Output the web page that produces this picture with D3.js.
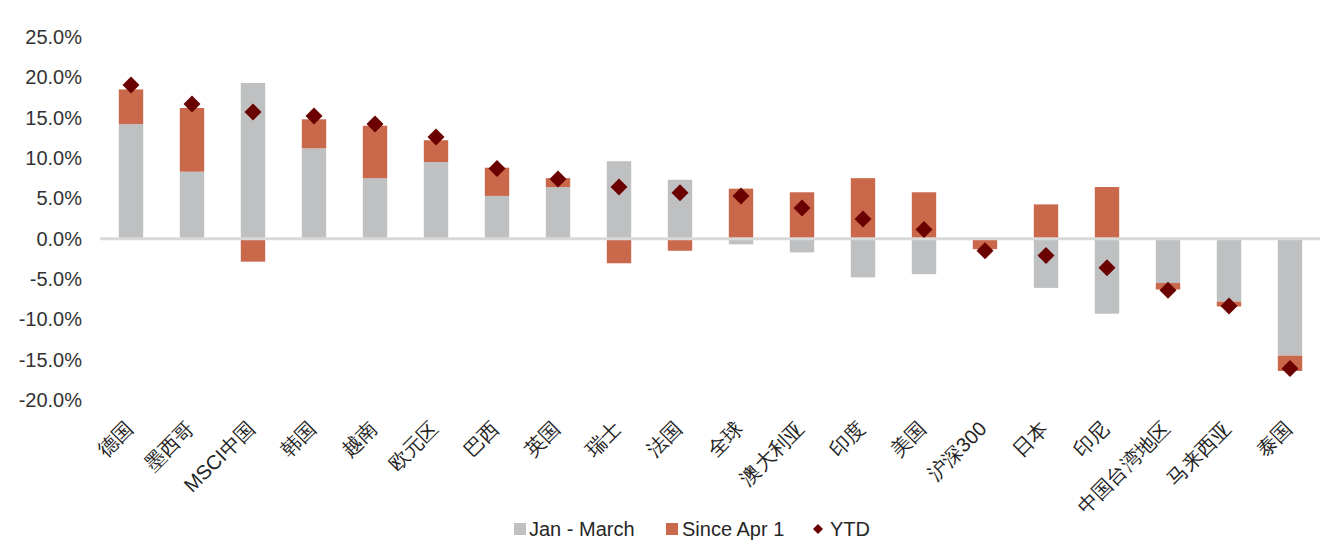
<!DOCTYPE html>
<html lang="zh">
<head>
    <meta charset="UTF-8">
    <title>YTD returns</title>
    <style>
        body { margin: 0; background: #ffffff; }
        svg { display: block; }
        .tick text { font-family: "Liberation Sans", Arial, sans-serif; }
    </style>
    <script src="https://d3js.org/d3.v7.min.js"></script>
</head>
<body>
    <svg width="1326" height="549"></svg>
    <script>
        // data (percent)
        const categories = ["德国", "墨西哥", "MSCI中国", "韩国", "越南", "欧元区", "巴西", "英国", "瑞士", "法国",
            "全球", "澳大利亚", "印度", "美国", "沪深300", "日本", "印尼", "中国台湾地区", "马来西亚", "泰国"];
        const janMarch = [14.2, 8.3, 19.3, 11.2, 7.5, 9.5, 5.3, 6.4, 9.6, 7.3,
            -0.7, -1.7, -4.8, -4.4, 0, -6.1, -9.3, -5.5, -7.8, -14.5];
        const sinceApr = [4.3, 7.9, -2.85, 3.6, 6.5, 2.7, 3.5, 1.1, -3.05, -1.5,
            6.2, 5.75, 7.5, 5.75, -1.3, 4.25, 6.4, -0.8, -0.6, -1.9];
        const ytd = [19.05, 16.7, 15.7, 15.2, 14.2, 12.6, 8.7, 7.4, 6.4, 5.7,
            5.3, 3.8, 2.45, 1.15, -1.5, -2.1, -3.6, -6.4, -8.35, -16.1];
        const yTicks = [-20, -15, -10, -5, 0, 5, 10, 15, 20, 25];

        const colors = { jan: "#bfc0c2", apr: "#c9684b", ytd: "#6b0000" };

        const svg = d3.select("svg");

        const x = d3.scaleBand()
            .domain(categories)
            .range([100.5, 1320.5])
            .paddingInner(0.6)
            .paddingOuter(0.3);

        const y = d3.scaleLinear()
            .domain([-20, 25])
            .range([400, 37]);

        const rows = categories.map((c, i) => ({ cat: c, jan: janMarch[i], apr: sinceApr[i] }));
        const stack = d3.stack()
            .keys(["jan", "apr"])
            .offset(d3.stackOffsetDiverging);
        const series = stack(rows);

        // bars
        svg.append("g")
            .selectAll("g")
            .data(series)
            .join("g")
            .attr("fill", d => colors[d.key])
            .selectAll("rect")
            .data(d => d)
            .join("rect")
            .attr("x", d => x(d.data.cat))
            .attr("width", x.bandwidth())
            .attr("y", d => y(Math.max(d[0], d[1])))
            .attr("height", d => Math.abs(y(d[0]) - y(d[1])));

        // zero line
        svg.append("line")
            .attr("x1", 100)
            .attr("x2", 1320)
            .attr("y1", y(0))
            .attr("y2", y(0))
            .attr("stroke", "#d9d9d9")
            .attr("stroke-width", 3);

        // YTD diamonds
        const diamond = "M0,-8.5L8.5,0L0,8.5L-8.5,0Z";
        svg.append("g")
            .selectAll("path")
            .data(ytd)
            .join("path")
            .attr("d", diamond)
            .attr("fill", colors.ytd)
            .attr("transform", (d, i) => `translate(${x(categories[i]) + x.bandwidth() / 2},${y(d)})`);

        // y axis
        const yAxis = svg.append("g")
            .attr("transform", "translate(82,0)")
            .call(d3.axisLeft(y).tickValues(yTicks).tickSize(0).tickPadding(0)
                .tickFormat(d => d.toFixed(1) + "%"));
        yAxis.select(".domain").remove();
        yAxis.selectAll("text")
            .attr("font-size", 20)
            .attr("fill", "#333");

        // x axis labels
        const xAxis = svg.append("g")
            .attr("transform", "translate(0,408)")
            .call(d3.axisBottom(x).tickSize(0).tickPadding(0));
        xAxis.select(".domain").remove();
        xAxis.selectAll("text")
            .attr("font-family", "'Noto Sans CJK SC', sans-serif")
            .attr("font-size", 20)
            .attr("fill", "#222")
            .attr("text-anchor", "end")
            .attr("dy", "0.35em")
            .attr("transform", "translate(-2,17) rotate(-45)");

        // legend
        const legend = svg.append("g")
            .attr("font-family", "'Liberation Sans', Arial, sans-serif")
            .attr("font-size", 20)
            .attr("fill", "#262626");
        legend.append("rect").attr("x", 514).attr("y", 523).attr("width", 12).attr("height", 12).attr("fill", colors.jan);
        legend.append("text").attr("x", 529).attr("y", 536).text("Jan - March");
        legend.append("rect").attr("x", 666).attr("y", 523).attr("width", 12).attr("height", 12).attr("fill", colors.apr);
        legend.append("text").attr("x", 682).attr("y", 536).text("Since Apr 1");
        legend.append("path").attr("d", "M0,-5L5,0L0,5L-5,0Z").attr("fill", colors.ytd)
            .attr("transform", "translate(818,529)");
        legend.append("text").attr("x", 830).attr("y", 536).text("YTD");
    </script>
</body>
</html>
